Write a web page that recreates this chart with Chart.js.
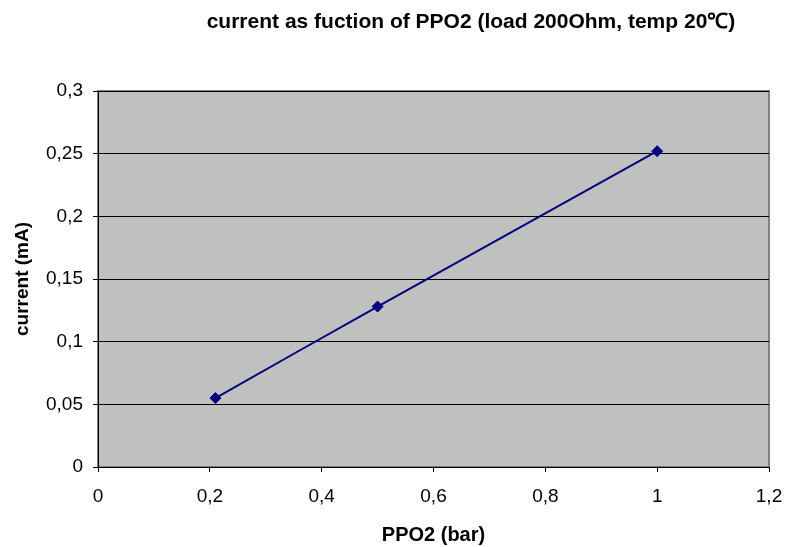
<!DOCTYPE html>
<html>
<head>
<meta charset="utf-8">
<script src="https://cdn.jsdelivr.net/npm/chart.js@4/dist/chart.umd.min.js"></script>
<style>
  html, body { margin: 0; padding: 0; background: #fff; }
  #wrap { width: 786px; height: 547px; }
</style>
</head>
<body>
<div id="wrap"><canvas id="myChart"></canvas></div>
<script>
// data dari gambar
const ppo2 = [0.21, 0.5, 1.0];
const current = [0.055, 0.128, 0.252];
const xTicks = [0, 0.2, 0.4, 0.6, 0.8, 1, 1.2];
const yTicks = [0, 0.05, 0.1, 0.15, 0.2, 0.25, 0.3];
const chartTitle = "current as fuction of PPO2 (load 200Ohm, temp 20\u2103)";

const fontFam = "'Liberation Sans', Arial, sans-serif";
const comma = (v) => String(Math.round(v * 100) / 100).replace(".", ",");

// background abu-abu + border plot area
const plotBg = {
  id: "plotBg",
  beforeDraw(chart) {
    const { ctx, chartArea: a } = chart;
    ctx.save();
    ctx.fillStyle = "#C0C0C0";
    ctx.fillRect(a.left, a.top, a.width, a.height);
    ctx.strokeStyle = "#808080";
    ctx.lineWidth = 2;
    ctx.strokeRect(a.left, a.top, a.width, a.height);
    ctx.restore();
  },
  afterDraw(chart) {
    const { ctx } = chart;
    ctx.save();
    ctx.fillStyle = "#000";
    ctx.font = "bold 21px " + fontFam;
    ctx.textAlign = "center";
    ctx.textBaseline = "middle";
    ctx.fillText(chartTitle, 471, 22);
    ctx.restore();
  },
};

const ctx = document.getElementById("myChart");
new Chart(ctx, {
  type: "scatter",
  data: {
    datasets: [
      {
        data: ppo2.map((x, i) => ({ x: x, y: current[i] })),
        showLine: true,
        tension: 0.3,
        borderColor: "#000080",
        borderWidth: 2,
        backgroundColor: "#000080",
        pointStyle: "rectRot",
        pointRadius: 5.5,
        pointBorderWidth: 1,
      },
    ],
  },
  options: {
    responsive: true,
    maintainAspectRatio: false,
    animation: false,
    layout: { padding: { top: 91, right: 17, bottom: 0, left: 0 } },
    plugins: {
      legend: { display: false },
      tooltip: { enabled: false },
    },
    scales: {
      x: {
        type: "linear",
        min: 0,
        max: 1.2,
        afterBuildTicks: (s) => { s.ticks = xTicks.map((v) => ({ value: v })); },
        afterFit: (s) => {
          s.height = 80;
          s.paddingLeft = 0;
          s.paddingRight = 0;
        },
        border: { color: "#000", width: 1 },
        grid: { drawOnChartArea: false, tickColor: "#000", tickLength: 5 },
        ticks: {
          color: "#000",
          font: { family: fontFam, size: 19 },
          padding: 13,
          maxRotation: 0,
          callback: (v) => comma(v),
        },
        title: {
          display: true,
          text: "PPO2 (bar)",
          color: "#000",
          font: { family: fontFam, size: 20, weight: "bold" },
          padding: { top: 0, bottom: 0 },
        },
      },
      y: {
        type: "linear",
        min: 0,
        max: 0.3,
        afterBuildTicks: (s) => { s.ticks = yTicks.map((v) => ({ value: v })); },
        afterFit: (s) => { s.width = 98; },
        border: { color: "#000", width: 1 },
        grid: { color: "#000", lineWidth: 1, tickColor: "#000", tickLength: 5 },
        ticks: {
          color: "#000",
          font: { family: fontFam, size: 19 },
          padding: 10,
          callback: (v) => comma(v),
        },
        title: {
          display: true,
          text: "current (mA)",
          color: "#000",
          font: { family: fontFam, size: 19, weight: "bold" },
          padding: { top: 11, bottom: 0 },
        },
      },
    },
  },
  plugins: [plotBg],
});
</script>
</body>
</html>
